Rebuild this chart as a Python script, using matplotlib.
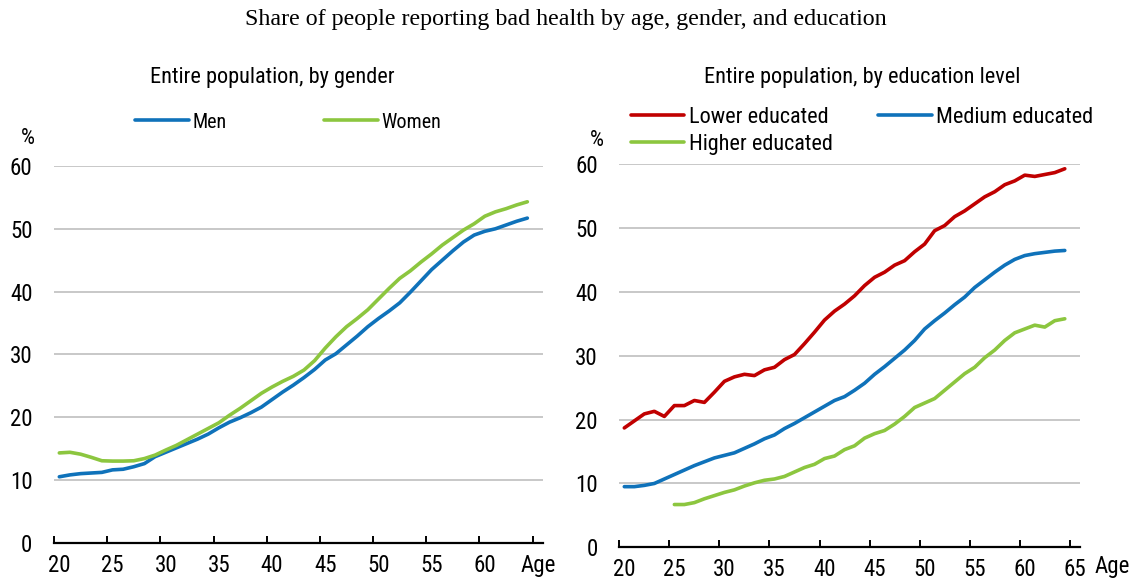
import matplotlib
matplotlib.use("Agg")
import matplotlib.pyplot as plt
from matplotlib.ticker import FixedLocator, FixedFormatter

W, H = 1133, 581
SANS = ["Liberation Sans Narrow", "Roboto Condensed", "Arial Narrow", "Liberation Sans", "DejaVu Sans"]
plt.rcParams["font.family"] = SANS

# ── data ────────────────────────────────────────────────────────────────────
ages = list(range(20, 65))
men = [10.5, 10.8, 11.0, 11.1, 11.2, 11.6, 11.7, 12.1, 12.6, 13.7,
       14.4, 15.1, 15.8, 16.5, 17.3, 18.3, 19.2, 19.9, 20.7, 21.6,
       22.8, 24.0, 25.1, 26.3, 27.6, 29.1, 30.1, 31.5, 32.9, 34.4,
       35.7, 36.9, 38.2, 39.9, 41.7, 43.5, 45.0, 46.5, 47.9, 49.0,
       49.6, 50.0, 50.6, 51.2, 51.7]
women = [14.3, 14.4, 14.1, 13.6, 13.05, 13.0, 13.0, 13.05, 13.4, 13.95,
         14.75, 15.5, 16.4, 17.3, 18.2, 19.1, 20.3, 21.4, 22.6, 23.8,
         24.8, 25.7, 26.5, 27.5, 29.0, 31.0, 32.8, 34.4, 35.7, 37.1,
         38.8, 40.5, 42.1, 43.3, 44.7, 46.0, 47.4, 48.6, 49.8, 50.8,
         52.0, 52.7, 53.2, 53.8, 54.3]

lower = [18.7, 19.8, 20.9, 21.3, 20.5, 22.2, 22.2, 23.0, 22.7, 24.3,
         26.0, 26.7, 27.1, 26.9, 27.8, 28.2, 29.4, 30.2, 31.9, 33.7,
         35.6, 37.0, 38.1, 39.4, 41.0, 42.3, 43.1, 44.2, 44.9, 46.3,
         47.5, 49.6, 50.4, 51.8, 52.7, 53.8, 54.9, 55.7, 56.8, 57.4,
         58.3, 58.1, 58.4, 58.7, 59.3]
medium = [9.5, 9.5, 9.7, 10.0, 10.7, 11.4, 12.1, 12.8, 13.4, 14.0,
          14.4, 14.8, 15.5, 16.2, 17.0, 17.6, 18.6, 19.4, 20.3, 21.2,
          22.1, 23.0, 23.6, 24.6, 25.7, 27.1, 28.3, 29.6, 30.9, 32.4,
          34.2, 35.5, 36.7, 38.0, 39.2, 40.7, 41.9, 43.1, 44.2, 45.1,
          45.7, 46.0, 46.2, 46.4, 46.5]
higher_ages = list(range(25, 65))
higher = [6.7, 6.7, 7.0, 7.6, 8.1,
          8.6, 9.0, 9.6, 10.1, 10.5, 10.7, 11.1, 11.8, 12.5, 13.0,
          13.9, 14.3, 15.3, 15.9, 17.1, 17.8, 18.3, 19.3, 20.5, 21.9,
          22.6, 23.3, 24.6, 25.9, 27.2, 28.2, 29.7, 30.9, 32.4, 33.6,
          34.2, 34.8, 34.5, 35.5, 35.8]

label_pos = [20, 25, 30, 35, 40, 45, 50, 55, 60, 65]
left_labels = ["20", "25", "30", "35", "40", "45", "50", "55", "60", "Age"]
right_labels = ["20", "25", "30", "35", "40", "45", "50", "55", "60", "65"]
y_ticks = [0, 10, 20, 30, 40, 50, 60]

BLUE = "#0F72BA"
GREEN = "#8CC63F"
RED = "#C00000"
GRID = "#C8C8C8"

TICK_FS = 16.5
SUB_FS = 16


def px_axes(fig, x0, x1, y_top, y_bot):
    return fig.add_axes([x0 / W, 1 - y_bot / H, (x1 - x0) / W, (y_bot - y_top) / H])


def style(ax, labels):
    ax.set_xlim(19.5, 65.5)
    ax.set_ylim(0, 60)
    for s in ["top", "right", "left"]:
        ax.spines[s].set_visible(False)
    ax.spines["bottom"].set_linewidth(1.6)
    ax.set_yticks(y_ticks)
    ax.tick_params(axis="y", length=0, pad=15.5, labelsize=TICK_FS)
    ax.yaxis.grid(True, color=GRID, linewidth=1.4)
    ax.set_axisbelow(True)
    # tick marks on category boundaries, labels on category centres
    ax.xaxis.set_major_locator(FixedLocator([a - 0.5 for a in label_pos]))
    ax.xaxis.set_major_formatter(FixedFormatter([""] * len(label_pos)))
    ax.xaxis.set_minor_locator(FixedLocator(label_pos))
    ax.xaxis.set_minor_formatter(FixedFormatter(labels))
    ax.tick_params(axis="x", which="major", direction="in", length=5, width=1.4)
    ax.tick_params(axis="x", which="minor", length=0, pad=8, labelsize=TICK_FS)


fig = plt.figure(figsize=(W / 100, H / 100), dpi=100)

fig.text(566 / W, 1 - 20 / H, "Share of people reporting bad health by age, gender, and education",
         ha="center", va="center", fontsize=17.3, family=["Liberation Serif", "DejaVu Serif"])

# ── left panel: by gender ──────────────────────────────────────────────────
ax1 = px_axes(fig, 54, 543.3, 166, 542.7)
style(ax1, left_labels)
l_men, = ax1.plot(ages, men, color=BLUE, lw=2.6, solid_capstyle="round", clip_on=False)
l_women, = ax1.plot(ages, women, color=GREEN, lw=2.6, solid_capstyle="round", clip_on=False)
fig.text(272 / W, 1 - 78 / H, "Entire population, by gender", ha="center", va="center", fontsize=SUB_FS)
fig.text(28 / W, 1 - 139 / H, "%", ha="center", va="center", fontsize=16)
fig.legend([l_men, l_women], ["Men", "Women"], loc="center left",
           bbox_to_anchor=(135 / W, 1 - 122 / H), ncol=2, frameon=False,
           fontsize=14.5, borderpad=0, borderaxespad=0, handlelength=2.68,
           handletextpad=0.2, columnspacing=4.8)

# ── right panel: by education ──────────────────────────────────────────────
ax2 = px_axes(fig, 619.3, 1079.8, 164.3, 547.3)
style(ax2, right_labels)
l_low, = ax2.plot(ages, lower, color=RED, lw=2.6, solid_capstyle="round", clip_on=False)
l_med, = ax2.plot(ages, medium, color=BLUE, lw=2.6, solid_capstyle="round", clip_on=False)
l_high, = ax2.plot(higher_ages, higher, color=GREEN, lw=2.6, solid_capstyle="round", clip_on=False)
fig.text(862 / W, 1 - 78 / H, "Entire population, by education level", ha="center", va="center", fontsize=SUB_FS)
fig.text(597 / W, 1 - 141 / H, "%", ha="center", va="center", fontsize=16)
fig.text(1112 / W, 1 - 567 / H, "Age", ha="center", va="center", fontsize=TICK_FS)
fig.legend([l_low, l_high, l_med], ["Lower educated", "Higher educated", "Medium educated"],
           loc="upper left", bbox_to_anchor=(631 / W, 1 - 107 / H), ncol=2, frameon=False,
           fontsize=16, borderpad=0, borderaxespad=0, handlelength=2.4,
           handletextpad=0.2, columnspacing=2.05, labelspacing=0.27)

fig.savefig("out.png", dpi=100)
